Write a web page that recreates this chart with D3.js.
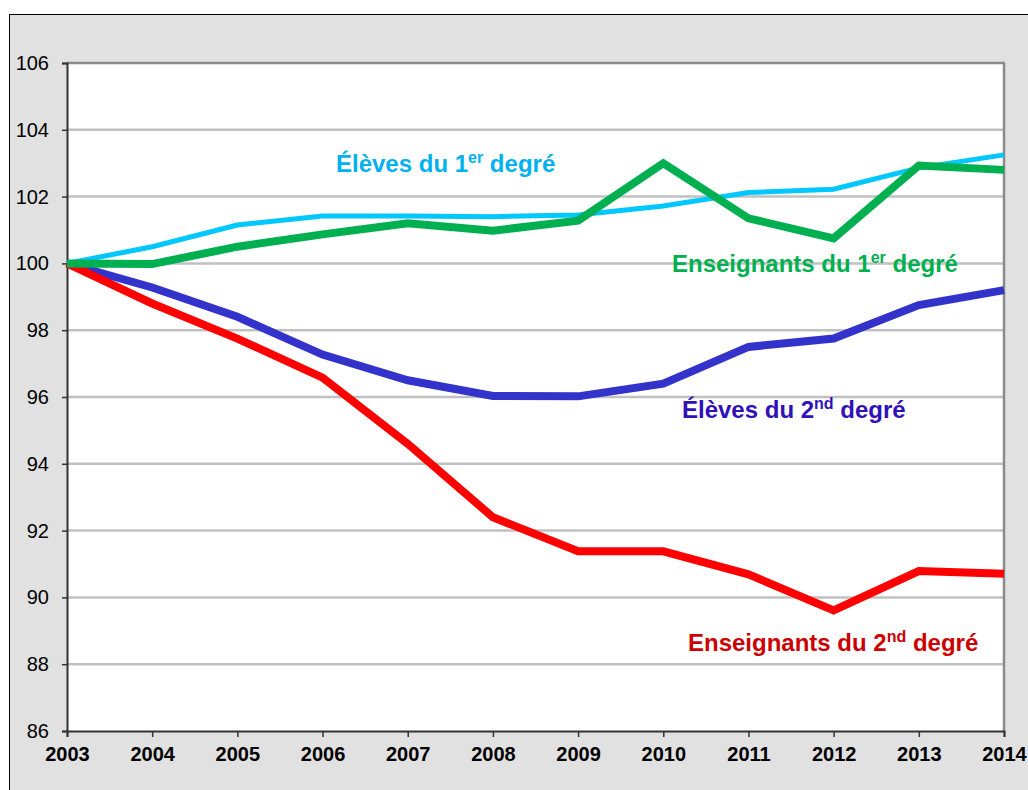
<!DOCTYPE html>
<html><head><meta charset="utf-8">
<script src="https://cdn.jsdelivr.net/npm/d3@7"></script>
<style>body{margin:0;background:#fff}svg{display:block}</style>
</head><body>
<svg id="c" width="1028" height="790"></svg>
<script>
const years = [2003,2004,2005,2006,2007,2008,2009,2010,2011,2012,2013,2014];
const elevesPremier      = [100,100.5,101.15,101.42,101.42,101.4,101.45,101.72,102.12,102.22,102.86,103.25];
const enseignantsPremier = [100,99.98,100.5,100.87,101.2,100.98,101.28,103.0,101.35,100.75,102.93,102.8];
const elevesSecond       = [100,99.28,98.4,97.27,96.5,96.03,96.02,96.4,97.5,97.75,98.75,99.2];
const enseignantsSecond  = [100,98.8,97.75,96.58,94.6,92.4,91.38,91.38,90.69,89.61,90.79,90.71];
const yTicks = [86,88,90,92,94,96,98,100,102,104,106];

const svg = d3.select("#c");
const L=67, R=1004, T=63, B=731;
const x = d3.scalePoint().domain(years).range([L,R]);
const y = d3.scaleLinear().domain([86,106]).range([B,T]);

// outer frame
svg.append("rect").attr("x",9.5).attr("y",14.5).attr("width",1030).attr("height",800)
  .attr("fill","#e1e1e1").attr("stroke","#000").attr("stroke-width",1);
// plot area
svg.append("rect").attr("x",L).attr("y",T).attr("width",R-L).attr("height",B-T).attr("fill","#fff");

// gridlines
svg.append("g").selectAll("line").data(yTicks.filter(d=>d>86 && d<106)).join("line")
  .attr("x1",L).attr("x2",R).attr("y1",d=>y(d)).attr("y2",d=>y(d))
  .attr("stroke","#c0c0c0").attr("stroke-width",2.5);
// top & right border
svg.append("line").attr("x1",L).attr("x2",R+1).attr("y1",T).attr("y2",T).attr("stroke","#8a8a8a").attr("stroke-width",2.5);
svg.append("line").attr("x1",R).attr("x2",R).attr("y1",T).attr("y2",B).attr("stroke","#8a8a8a").attr("stroke-width",2.5);

// y axis
const ya = svg.append("g").attr("transform",`translate(${L},0)`)
  .call(d3.axisLeft(y).tickValues(yTicks).tickSize(5).tickPadding(13).tickFormat(d3.format("d")));
ya.select(".domain").attr("stroke","#333").attr("stroke-width",2);
ya.selectAll(".tick line").attr("stroke","#333").attr("stroke-width",1.5);
ya.selectAll("text").attr("font-family","Liberation Sans, Arial, sans-serif").attr("font-size",20).attr("fill","#000");

// x axis
const xa = svg.append("g").attr("transform",`translate(0,${B})`)
  .call(d3.axisBottom(x).tickSize(6).tickPadding(10).tickFormat(d3.format("d")));
xa.select(".domain").attr("stroke","#333").attr("stroke-width",2);
xa.selectAll(".tick line").attr("stroke","#333").attr("stroke-width",1.5);
xa.selectAll("text").attr("font-family","Liberation Sans, Arial, sans-serif").attr("font-size",20)
  .attr("font-weight","bold").attr("fill","#000");

const line = d3.line().x((d,i)=>x(years[i])).y(d=>y(d));
const series = [
  {v:elevesSecond, c:"#3333cc", w:8},
  {v:enseignantsSecond, c:"#ff0000", w:8},
  {v:elevesPremier, c:"#00c8ff", w:5},
  {v:enseignantsPremier, c:"#00b050", w:8}
];
svg.append("g").selectAll("path").data(series).join("path")
  .attr("d",d=>line(d.v)).attr("fill","none").attr("stroke",d=>d.c).attr("stroke-width",d=>d.w)
  .attr("stroke-linejoin","miter");

// labels
const labels = [
  {x:336, y:172, c:"#00b0f0", a:"Élèves du 1", s:"er", b:" degré"},
  {x:672, y:272, c:"#00b050", a:"Enseignants du 1", s:"er", b:" degré"},
  {x:682, y:418, c:"#3010b8", a:"Élèves du 2", s:"nd", b:" degré"},
  {x:688, y:651, c:"#cc0000", a:"Enseignants du 2", s:"nd", b:" degré"}
];
labels.forEach(l=>{
  const t = svg.append("text").attr("x",l.x).attr("y",l.y)
    .attr("font-family","Liberation Sans, Arial, sans-serif").attr("font-size",24)
    .attr("font-weight","bold").attr("fill",l.c);
  t.append("tspan").text(l.a);
  t.append("tspan").attr("font-size",16).attr("dy",-9).text(l.s);
  t.append("tspan").attr("dy",9).text(l.b);
});
</script>
</body></html>
